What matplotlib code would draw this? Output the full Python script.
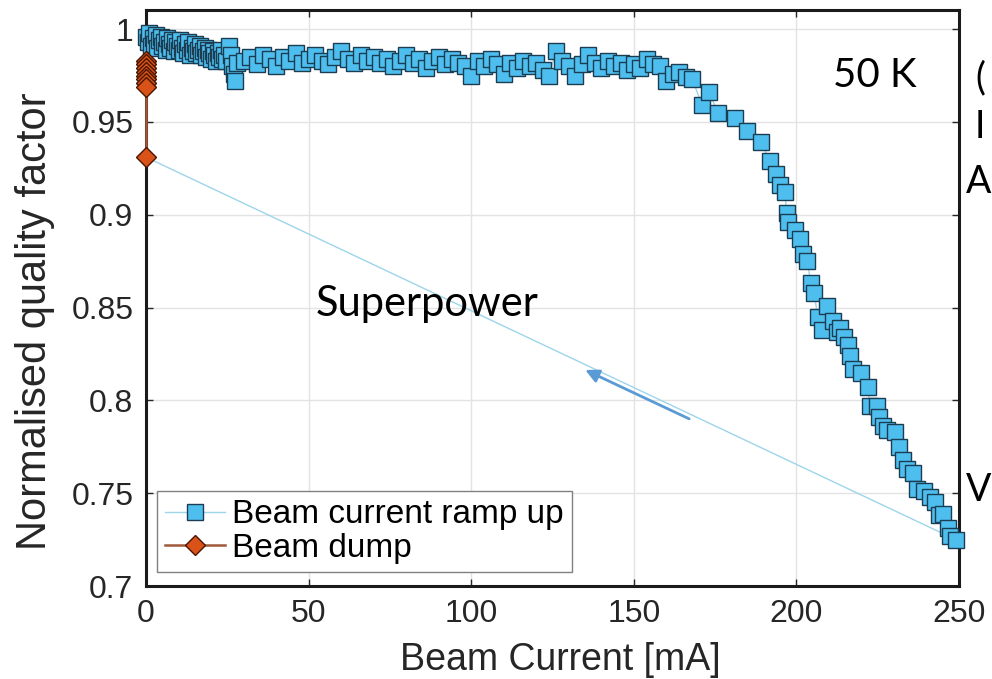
import matplotlib
matplotlib.use('Agg')
import matplotlib.pyplot as plt

# Beam current ramp up (mA, normalised Q); last point is the return to the dump start
ramp_x = [0.0, 0.5, 1.0, 1.5, 2.0, 2.5, 3.0, 3.5, 4.0, 4.5,
          5.0, 5.5, 6.0, 6.5, 7.0, 7.5, 8.0, 8.5, 9.0, 9.5,
          10.0, 10.5, 11.0, 11.5, 12.0, 12.5, 13.0, 13.5, 14.0, 14.5,
          15.0, 15.5, 16.0, 16.5, 17.0, 17.5, 18.0, 18.5, 19.0, 19.5,
          20.0, 20.5, 21.0, 21.5, 22.0, 22.5, 23.0, 23.5, 24.0, 24.5,
          25.5, 26.0, 26.5, 27.0, 27.5, 28.0,
          30, 32, 34, 36, 38, 40, 42, 44, 46, 48, 50,
          52, 54, 56, 58, 60, 62, 64, 66, 68, 70,
          72, 74, 76, 78, 80, 82, 84, 86, 88, 90,
          92, 94, 96, 98, 100, 102, 104, 106, 108, 110,
          112, 114, 116, 118, 120, 122, 124, 126, 128, 130,
          132, 134, 136, 138, 140, 142, 144, 146, 148, 150, 152, 154, 156,
          158, 160, 162, 164, 166, 168, 171, 173, 176, 181,
          184.8, 189, 192, 193.7, 195, 196.5, 197, 197.5, 199.6, 201,
          202, 203.3, 204.5, 205.4, 206.6, 207.9, 209.4, 211.3, 212.5, 213.4,
          214.6, 216, 216.5, 217.5, 220, 222, 222.5, 224.7, 225.4, 226.6,
          228, 230.3, 231.5, 232.8, 234, 235.9, 237, 239.2, 241, 242.6,
          243.9, 245, 246.6, 247.2, 249,
          0.0]
ramp_y = [0.996, 0.993, 0.998, 0.991, 0.995, 0.992, 0.997, 0.990, 0.994, 0.996,
          0.991, 0.993, 0.989, 0.995, 0.992, 0.990, 0.994, 0.988, 0.993, 0.991,
          0.989, 0.994, 0.990, 0.987, 0.992, 0.989, 0.993, 0.986, 0.990, 0.988,
          0.992, 0.987, 0.989, 0.991, 0.986, 0.988, 0.990, 0.985, 0.989, 0.987,
          0.984, 0.988, 0.986, 0.983, 0.987, 0.985, 0.989, 0.984, 0.986, 0.983,
          0.991, 0.986, 0.980, 0.976, 0.972, 0.982,
          0.983, 0.985, 0.981, 0.986, 0.984, 0.980, 0.985, 0.983, 0.987, 0.982, 0.984,
          0.986, 0.983, 0.981, 0.985, 0.988, 0.984, 0.982, 0.986, 0.983, 0.985,
          0.982, 0.984, 0.980, 0.983, 0.986, 0.982, 0.984, 0.979, 0.983, 0.985,
          0.981, 0.984, 0.982, 0.980, 0.975, 0.983, 0.980, 0.984, 0.981, 0.976,
          0.982, 0.979, 0.983, 0.980, 0.982, 0.978, 0.975, 0.988, 0.983, 0.980,
          0.975, 0.981, 0.986, 0.982, 0.979, 0.983, 0.980, 0.982, 0.978, 0.981, 0.979, 0.984, 0.981,
          0.980, 0.972, 0.976, 0.977, 0.974, 0.973, 0.959, 0.966, 0.955, 0.952,
          0.945, 0.939, 0.929, 0.922, 0.916, 0.912, 0.901, 0.896, 0.892, 0.887,
          0.879, 0.875, 0.863, 0.858, 0.845, 0.838, 0.851, 0.843, 0.837, 0.839,
          0.834, 0.830, 0.824, 0.817, 0.815, 0.807, 0.797, 0.797, 0.791, 0.786,
          0.784, 0.783, 0.775, 0.768, 0.763, 0.761, 0.752, 0.751, 0.748, 0.745,
          0.738, 0.739, 0.731, 0.727, 0.725,
          0.931]

# Beam dump (all at zero current)
dump_x = [0, 0, 0, 0, 0, 0, 0, 0, 0]
dump_y = [0.983, 0.981, 0.979, 0.977, 0.975, 0.973, 0.971, 0.969, 0.931]

xticks = [0, 50, 100, 150, 200, 250]
yticks = [0.7, 0.75, 0.8, 0.85, 0.9, 0.95, 1.0]
ytick_labels = ['0.7', '0.75', '0.8', '0.85', '0.9', '0.95', '1']

plt.rcParams['font.family'] = ['Liberation Sans', 'DejaVu Sans']
slide_font = ['Lato', 'DejaVu Sans']

fig = plt.figure(figsize=(9.92, 6.79), dpi=100)
ax = fig.add_axes([146 / 992, 93 / 679, 813 / 992, 576 / 679])

ax.plot(ramp_x, ramp_y, color='#9dd5ea', lw=1, marker='s', ms=11.5,
        mfc='#4dbeee', mec='#1b3d52', mew=1,
        markevery=list(range(len(ramp_x) - 1)), clip_on=False,
        label='Beam current ramp up', zorder=3)
ax.plot(dump_x, dump_y, color='#a0583a', lw=1.8, marker='D', ms=10.5,
        mfc='#d95319', mec='#4a1500', mew=1, clip_on=False,
        label='Beam dump', zorder=4)

ax.set_xlim(0, 250)
ax.set_ylim(0.7, 1.0103)
ax.set_xticks(xticks)
ax.set_yticks(yticks)
ax.set_yticklabels(ytick_labels)
ax.tick_params(direction='in', length=5, width=1, top=True, right=True,
               labelsize=23, pad=9, colors='#262626', labelcolor='#262626')
ax.grid(True, color='#e3e3e3', lw=1)
ax.set_axisbelow(True)
for s in ax.spines.values():
    s.set_linewidth(2.2)
    s.set_color('#1a1a1a')

ax.set_xlabel('Beam Current [mA]', fontsize=27, color='#262626')
ax.xaxis.set_label_coords(0.51, -0.097)
ax.set_ylabel('Normalised quality factor', fontsize=30, color='#262626')
ax.yaxis.set_label_coords(-0.112, 0.46)

leg = ax.legend(loc='lower left', bbox_to_anchor=(0.0135, 0.024), borderaxespad=0,
                fontsize=24, fancybox=False, framealpha=1, edgecolor='#808080',
                handlelength=1.8, handletextpad=0.2, borderpad=0.25, labelspacing=0.08)
leg.get_frame().set_linewidth(1)

# slide annotations
ax.annotate('', xy=(134.3, 0.817), xytext=(167.8, 0.7894),
            arrowprops=dict(arrowstyle='-|>', color='#5b9bd5', lw=2, mutation_scale=20))
ax.text(86.4, 0.852, 'Superpower', fontsize=30, family=slide_font,
        ha='center', va='center', color='black')
ax.text(0.897, 0.887, '50 K', transform=ax.transAxes, fontsize=29,
        family=slide_font, ha='center', va='center', color='black')

for ch, px, py, ha in [('(', 975, 78, 'left'), ('I', 975, 127, 'left'),
                       ('A', 991, 182, 'right'), ('V', 991, 490, 'right')]:
    fig.text(px / 992, 1 - py / 679, ch, fontsize=27, family=slide_font,
             ha=ha, va='center', color='black')

fig.savefig('out.png', dpi=100)
